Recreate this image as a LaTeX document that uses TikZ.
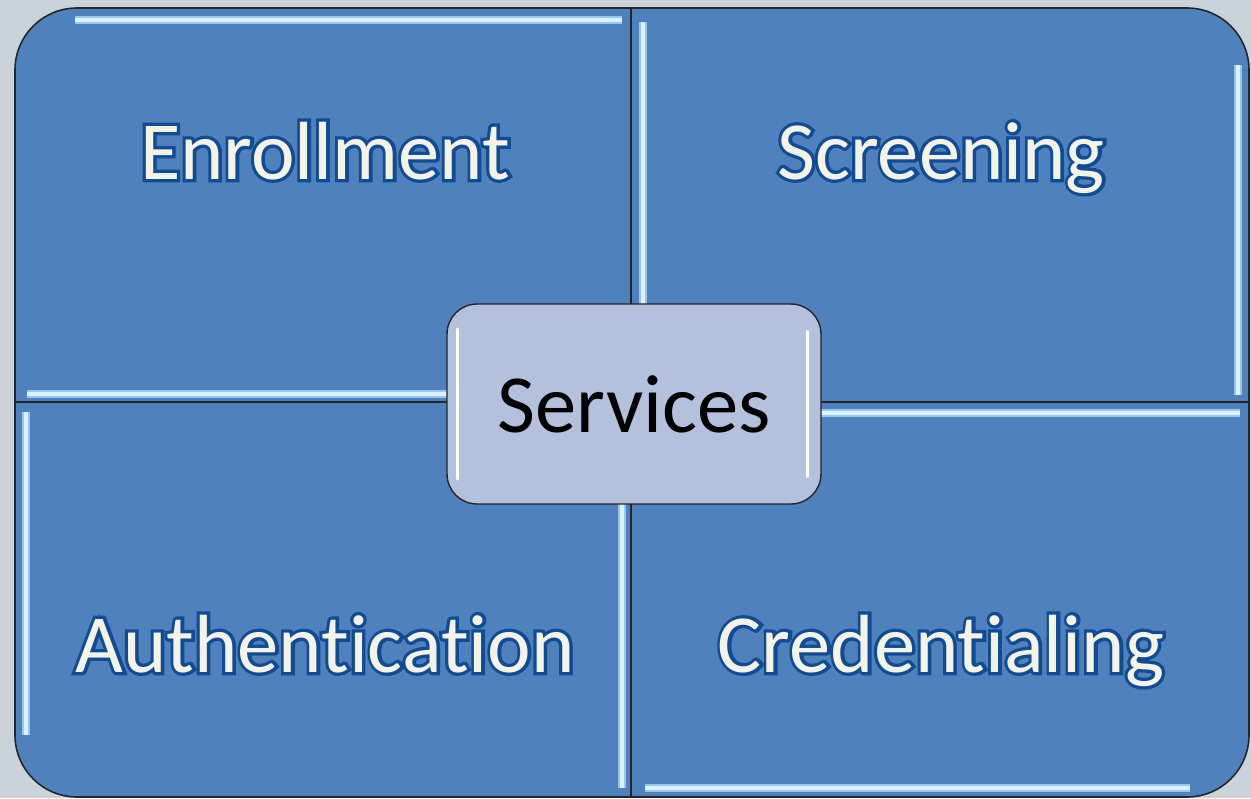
\documentclass[tikz,border=0pt]{standalone}
\usepackage{fontspec}
\setmainfont{Carlito}[Ligatures=NoCommon]
\newfontfamily\qoutline{Carlito}[Ligatures=NoCommon,FakeBold=8]
\usetikzlibrary{calc}

\definecolor{bgcol}{RGB}{201,211,217}
\definecolor{quadfill}{RGB}{79,129,189}
\definecolor{boxfill}{RGB}{179,193,220}
\definecolor{txtfill}{RGB}{245,242,230}
\definecolor{txtline}{RGB}{16,76,150}
\definecolor{glintA}{RGB}{150,198,242}
\definecolor{glintB}{RGB}{222,241,255}

\newcommand\qfont{\fontsize{47}{56}\selectfont}
\newcommand\quadtext[3]{%
  \node[qtext,text=txtline,font=\qoutline\qfont] at (#2) {#3};
  \node[qtext,text=txtfill] (#1) at (#2) {#3};}

\tikzset{
  qtext/.style={anchor=base,inner sep=0pt,font=\qfont},
  glint/.style={draw=glintA,line width=0.17cm},
  glintcore/.style={draw=glintB,line width=0.07cm},
  divider/.style={draw=black!85,line width=0.9pt}
}

\begin{document}
\begin{tikzpicture}[x=0.02cm,y=-0.02cm]
\fill[bgcol] (0,0) rectangle (1251,798);
\useasboundingbox (0,0) rectangle (1251,798);

\begin{scope}
\clip[rounded corners=1.24cm] (15,8) rectangle (1249,797);
\fill[quadfill] (15,8) rectangle (1249,797);
% bevel glints
\foreach \xa/\ya/\xb/\yb in {75/20/622/20, 27/394/622/394,
    643/22/643/395, 1238/65/1238/395,
    26/412/26/735, 622/412/622/788,
    640/413/1240/413, 645/788/1190/788} {
  \draw[glint] (\xa,\ya) -- (\xb,\yb);
  \draw[glintcore] (\xa,\ya) -- (\xb,\yb);
}
\end{scope}
\draw[divider] (631,8) -- (631,797);
\draw[divider] (15,402) -- (1249,402);
\draw[divider,rounded corners=1.24cm] (15,8) rectangle (1249,797);

\coordinate (enrpos) at (325,179);
\coordinate (scrpos) at (941,179);
\coordinate (autpos) at (325,672);
\coordinate (crepos) at (941,672);
\quadtext{enrollment}{enrpos}{Enrollment}
\quadtext{screening}{scrpos}{Screening}
\quadtext{authentication}{autpos}{Authentication}
\quadtext{credentialing}{crepos}{Credentialing}

\node[draw=black!85,line width=0.8pt,fill=boxfill,rounded corners=0.6cm,
  minimum width=7.48cm,minimum height=4cm,inner sep=0pt,font=\qfont]
  (services) at (634,404) {Services};
\draw[white,line width=0.07cm,line cap=round] ($(services.west)+(0.22cm,-1.5cm)$) -- ($(services.west)+(0.22cm,1.5cm)$);
\draw[white,line width=0.07cm,line cap=round] ($(services.east)+(-0.28cm,-1.45cm)$) -- ($(services.east)+(-0.28cm,1.45cm)$);
\end{tikzpicture}
\end{document}
